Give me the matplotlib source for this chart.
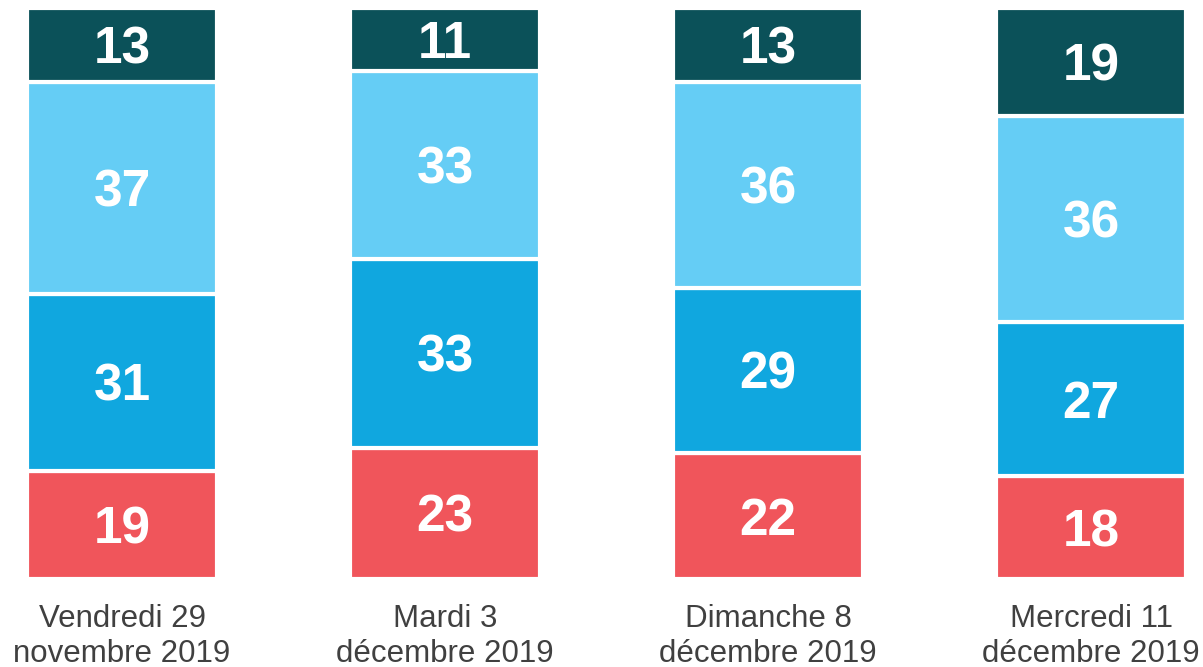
import matplotlib.pyplot as plt
import matplotlib.transforms as mtransforms
import numpy as np

# ================= DATA =================
dates = ['Vendredi 29\nnovembre 2019', 'Mardi 3\ndécembre 2019',
         'Dimanche 8\ndécembre 2019', 'Mercredi 11\ndécembre 2019']
# segments from bottom to top
red_vals = [19, 23, 22, 18]
blue_vals = [31, 33, 29, 27]
light_vals = [37, 33, 36, 36]
dark_vals = [13, 11, 13, 19]

series = [red_vals, blue_vals, light_vals, dark_vals]
colors = ['#F0555B', '#10A7DF', '#65CDF5', '#0B5159']
# ========================================

plt.rcParams['font.family'] = ['Liberation Sans', 'DejaVu Sans']

W, H = 1203, 667
fig = plt.figure(figsize=(W / 100, H / 100), dpi=100)
ax = fig.add_axes([0, 1 - 579 / H, 1, 571 / H])

NUM_SIZE = 37
cap = 0.716 * NUM_SIZE  # cap height of the bold digits, in points

x = np.arange(len(dates))
bottom = np.zeros(len(dates))
for vals, col in zip(series, colors):
    vals = np.array(vals)
    ax.bar(x, vals, width=0.588, bottom=bottom, color=col,
           edgecolor='white', linewidth=3)
    for xi, b, v in zip(x, bottom, vals):
        ax.annotate(str(v), (xi, b + v / 2), xytext=(0, -cap / 2),
                    textcoords='offset points', ha='center', va='baseline',
                    color='white', fontsize=NUM_SIZE, fontweight='bold')
    bottom += vals

ax.set_xlim(-122 / 323, (W - 122) / 323)
ax.set_ylim(0, 100)
ax.axis('off')

# date labels, two lines each, baselines placed in figure pixels
trans = mtransforms.blended_transform_factory(ax.transData, fig.transFigure)
for xi, lab in zip(x, dates):
    for line, base_px in zip(lab.split('\n'), [627, 662]):
        ax.text(xi, 1 - base_px / H, line, transform=trans, ha='center',
                va='baseline', fontsize=22.5, color='#404040')

plt.savefig('out.png', dpi=100)
